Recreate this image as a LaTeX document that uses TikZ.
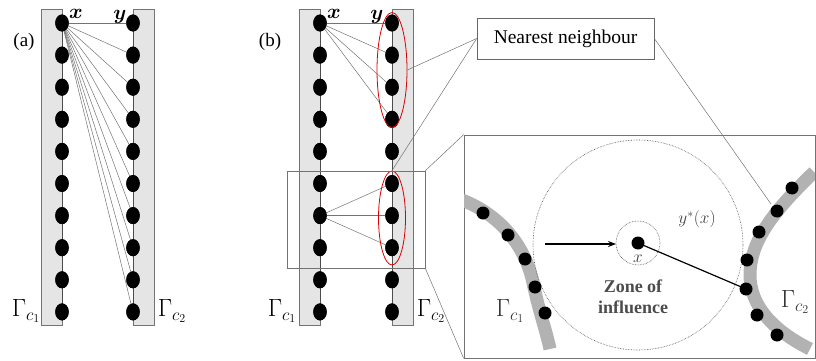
\documentclass[tikz,border=0pt]{standalone}
\usepackage{bm}
\usepackage{fontspec}
\setmainfont{Liberation Serif}
\usetikzlibrary{shapes.geometric,arrows.meta}
\begin{document}
\begin{tikzpicture}[x=1pt,y=-1pt,
  strip/.style={draw=black!55, fill=black!10, line width=0.8pt},
  dot/.style={ellipse, fill=black, minimum width=13.5pt, minimum height=17pt, inner sep=0pt},
  rdot/.style={circle, fill=black, minimum size=13pt, inner sep=0pt},
  link/.style={draw=black!55, line width=0.5pt},
  spine/.style={draw=black!70, line width=0.8pt},
  redell/.style={ellipse, draw=red!85!black, line width=0.8pt, inner sep=0pt},
  frame/.style={draw=black!55, line width=0.7pt, inner sep=0pt},
  band/.style={draw=black!30, line width=13pt},
  dcirc/.style={draw=black!70, densely dotted, line width=0.6pt},
  glab/.style={font=\fontsize{25}{25}\selectfont, inner sep=0pt},
  xylab/.style={font=\fontsize{22}{22}\selectfont, inner sep=0pt},
  plab/.style={font=\fontsize{19}{19}\selectfont, inner sep=0pt}
]
\path[use as bounding box] (0,0) rectangle (816,361);

% ---------- panel (a) ----------
\draw[strip] (41,9) rectangle (62,325);
\draw[strip] (133,9) rectangle (154,325);
\draw[spine] (62,23) -- (62,312);
\draw[spine] (133,23) -- (133,312);
\foreach \i [evaluate=\i as \yy using 23+(\i-1)*32.1] in {1,...,10}{
  \node[dot] (aL\i) at (62,\yy) {};
  \node[dot] (aR\i) at (133,\yy) {};
}
\foreach \i in {1,...,10}{ \draw[link] (aL1.center) -- (aR\i.center); }
\foreach \i in {1,...,10}{ \node[dot] at (aL\i) {}; \node[dot] at (aR\i) {}; }
\node[plab] (alab) at (24,42) {(a)};
\node[xylab] (ax) at (76,14) {$\bm{x}$};
\node[xylab] (ay) at (120,17) {$\bm{y}$};
\node[glab] (ag1) at (26,311) {$\Gamma_{c_1}$};
\node[glab] (ag2) at (172,311) {$\Gamma_{c_2}$};

% ---------- panel (b) ----------
\draw[strip] (299,9) rectangle (320,325);
\draw[strip] (392,9) rectangle (413,325);
\draw[spine] (320,23) -- (320,312);
\draw[spine] (392,23) -- (392,312);
\foreach \i [evaluate=\i as \yy using 23+(\i-1)*32.1] in {1,...,10}{
  \node[dot] (bL\i) at (320,\yy) {};
  \node[dot] (bR\i) at (392,\yy) {};
}
\foreach \i in {1,...,4}{ \draw[link] (bL1.center) -- (bR\i.center); }
\foreach \i in {6,7,8}{ \draw[link] (bL7.center) -- (bR\i.center); }
\foreach \i in {1,...,10}{ \node[dot] at (bL\i) {}; \node[dot] at (bR\i) {}; }
\node[redell, minimum width=30pt, minimum height=115pt] (e1) at (392,70) {};
\node[redell, minimum width=27pt, minimum height=94pt] (e2) at (392,218) {};
\node[plab] (blab) at (270,42) {(b)};
\node[xylab] (bx) at (334,14) {$\bm{x}$};
\node[xylab] (by) at (377,17) {$\bm{y}$};
\node[glab] (bg1) at (282,311) {$\Gamma_{c_1}$};
\node[glab] (bg2) at (431,311) {$\Gamma_{c_2}$};

% zoom frame and big frame
\node[frame, minimum width=138pt, minimum height=97pt] (zr) at (356,219.5) {};
\node[frame, minimum width=351pt, minimum height=223pt] (br) at (639.5,246.5) {};
\draw[link] (zr.north east) -- (br.north west);
\draw[link] (zr.south east) -- (br.south west);

% nearest neighbour box
\node[draw=black!60, line width=0.7pt, minimum width=177pt, minimum height=41pt,
      font=\fontsize{19.5}{19.5}\selectfont] (nn) at (565.5,38.5) {Nearest neighbour};
\draw[link] (e1.east) -- (nn.west);
\draw[link] (e2.north) -- (nn.west);
\coordinate (g2top) at (771,204);
\draw[link] (nn.east) -- (g2top);

% ---------- zoomed scene ----------
\begin{scope}
\clip (464,135) rectangle (815,358);
\draw[band] (462,200) .. controls (500,215) and (525,245) .. (533,283)
            .. controls (540,315) and (546,330) .. (550,349);
\draw[band] (814,172) .. controls (775,210) and (750,240) .. (750,275)
            .. controls (750,305) and (772,330) .. (810,349);
\end{scope}
\draw[dcirc] (638,245) circle (105);
\draw[dcirc] (638,243) circle (22);

\node[rdot] (c1) at (483,213) {};
\node[rdot] (c2) at (508,235) {};
\node[rdot] (c3) at (525,259) {};
\node[rdot] (c4) at (535,287) {};
\node[rdot] (c5) at (545,313) {};
\node[rdot] (d1) at (792,188) {};
\node[rdot] (d2) at (777,211) {};
\node[rdot] (d3) at (759,232) {};
\node[rdot] (d4) at (747,260) {};
\node[rdot] (d5) at (746,289) {};
\node[rdot] (d6) at (757,315) {};
\node[rdot] (d7) at (777,335) {};
\node[rdot] (cx) at (638,243) {};

\coordinate (astart) at (545,244);
\coordinate (aend) at (616,244);
\draw[line width=1.2pt, -{Stealth[length=8pt,width=6pt]}] (astart) -- (aend);
\draw[line width=1.2pt] (cx) -- (d5);

\node[font=\fontsize{16}{16}\selectfont, inner sep=0pt, text=black!75] (lx) at (638,259) {$x$};
\node[font=\fontsize{18}{18}\selectfont, inner sep=0pt, text=black!75] (ly) at (697,219) {$y^*(x)$};
\node[align=center, font=\bfseries\fontsize{18}{21}\selectfont, text=black!70] (zone) at (633,297) {Zone of\\influence};
\node[glab, text=black!80] (cg1) at (510,311) {$\Gamma_{c_1}$};
\node[glab, text=black!80] (cg2) at (795,302) {$\Gamma_{c_2}$};
\end{tikzpicture}
\end{document}
